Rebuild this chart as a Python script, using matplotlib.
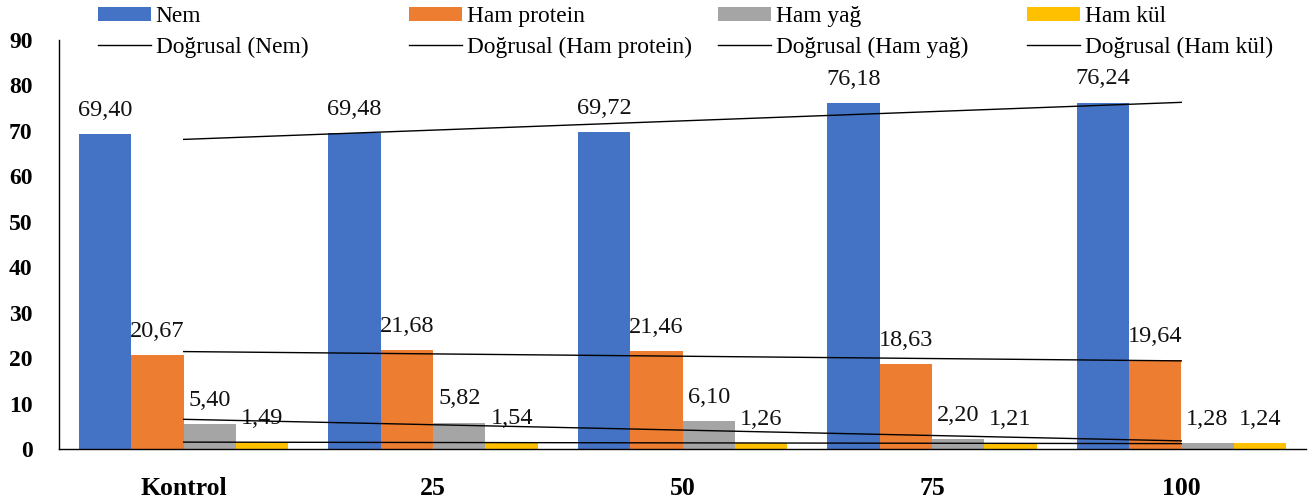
import numpy as np
import matplotlib.pyplot as plt
from matplotlib.patches import Patch
from matplotlib.lines import Line2D

plt.rcParams['font.family'] = ['Liberation Serif', 'DejaVu Serif']

categories = ['Kontrol', '25', '50', '75', '100']
series_names = ['Nem', 'Ham protein', 'Ham yağ', 'Ham kül']
nem = [69.40, 69.48, 69.72, 76.18, 76.24]
ham_protein = [20.67, 21.68, 21.46, 18.63, 19.64]
ham_yag = [5.40, 5.82, 6.10, 2.20, 1.28]
ham_kul = [1.49, 1.54, 1.26, 1.21, 1.24]
y_ticks = [0, 10, 20, 30, 40, 50, 60, 70, 80, 90]

series = [nem, ham_protein, ham_yag, ham_kul]
colors = ['#4472C4', '#ED7D31', '#A5A5A5', '#FFC000']

fig = plt.figure(figsize=(13.14, 5), dpi=100)
ax = fig.add_axes([59 / 1314, 1 - 449 / 500, 1247 / 1314, 409 / 500])

x = np.arange(len(categories))
bar_w = 0.21
offsets = (np.arange(4) - 1.5) * bar_w

for vals, off, col in zip(series, offsets, colors):
    bars = ax.bar(x + off, vals, width=bar_w, color=col, linewidth=0)
    for b, v in zip(bars, vals):
        ax.annotate(f"{v:.2f}".replace('.', ','),
                    (b.get_x() + b.get_width() / 2, v),
                    xytext=(0, 17), textcoords='offset points',
                    ha='center', va='center', fontsize=17.5, color='#111111')

# linear trendlines across the group centres
for vals in series:
    k, b0 = np.polyfit(x + 1, vals, 1)
    ax.plot(x, k * (x + 1) + b0, color='black', linewidth=1.0, zorder=3)

ax.set_xlim(-0.5, len(categories) - 0.5)
ax.set_ylim(0, 90)
ax.set_yticks(y_ticks)
ax.set_xticks(x)
ax.set_xticklabels(categories)
for lab in ax.get_yticklabels():
    lab.set_fontweight('bold')
    lab.set_fontsize(17)
for lab in ax.get_xticklabels():
    lab.set_fontweight('bold')
    lab.set_fontsize(18.5)
ax.tick_params(axis='y', length=0, pad=19)
ax.tick_params(axis='x', length=0, pad=20)
for s in ['top', 'right']:
    ax.spines[s].set_visible(False)
for s in ['left', 'bottom']:
    ax.spines[s].set_color('black')
    ax.spines[s].set_linewidth(1.0)

# legend: one column per series, bar on top and trendline below
col_x = [98, 409, 718, 1027]
for name, col, lx in zip(series_names, colors, col_x):
    handles = [Patch(facecolor=col, edgecolor='none'),
               Line2D([], [], color='black', linewidth=1.0)]
    labels = [name, f'Doğrusal ({name})']
    fig.legend(handles, labels, loc='upper left',
               bbox_to_anchor=(lx / 1314, 1 - 6 / 500),
               frameon=False, fontsize=16.8, handlelength=2.25,
               handleheight=0.55, handletextpad=0.22,
               labelspacing=0.42, borderpad=0, borderaxespad=0)

fig.savefig('out.png', dpi=100)
